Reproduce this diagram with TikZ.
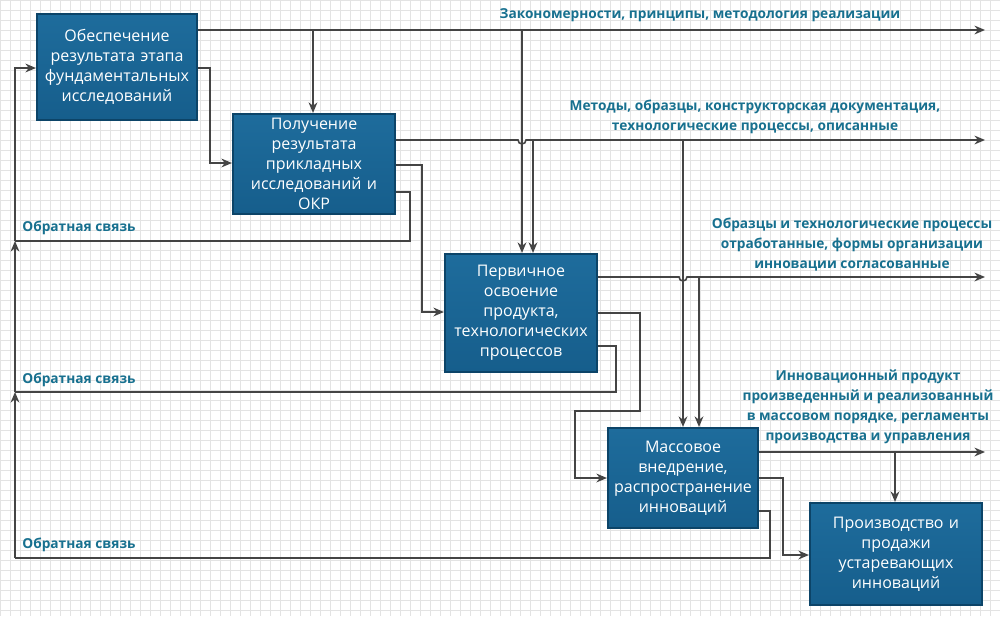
\documentclass[tikz,border=0pt]{standalone}
\usepackage{fontspec}
\setmainfont{Open Sans}
\usetikzlibrary{arrows.meta}
\definecolor{boxfill}{HTML}{165E8C}
\definecolor{boxtop}{HTML}{1E6C9C}
\definecolor{boxline}{HTML}{0C4468}
\definecolor{lab}{HTML}{17708F}
\definecolor{ln}{HTML}{444444}
\definecolor{gridc}{HTML}{E3E3E3}
\tikzset{
  x=0.02cm,y=-0.02cm,
  box/.style={draw=boxline,line width=1.2pt,top color=boxtop,bottom color=boxfill,
    text=white,align=center,inner sep=0pt,font=\fontsize{9.1}{11.4}\selectfont},
  conn/.style={draw=ln,line width=0.9pt},
  arr/.style={conn,-{Stealth[length=6pt,width=5pt]}},
  lbl/.style={text=lab,font=\bfseries\fontsize{7.8}{11.4}\selectfont,align=center,inner sep=0pt}
}
\begin{document}
\begin{tikzpicture}
\useasboundingbox (0,0) rectangle (1000,616);
\fill[white] (0,0) rectangle (1000,616);
\foreach \i in {0,10,...,1000} \draw[gridc,line width=0.4pt] (\i,0) -- (\i,616);
\foreach \j in {0,10,...,610} \draw[gridc,line width=0.4pt] (0,\j) -- (1000,\j);
% boxes
\node[box,minimum width=160*0.02cm,minimum height=106*0.02cm,text width=155*0.02cm] (b1) at (117,67) {Обеспечение\\результата этапа\\фундаментальных\\исследований};
\node[box,minimum width=162*0.02cm,minimum height=100*0.02cm,text width=155*0.02cm] (b2) at (314,164) {Получение\\результата\\прикладных\\исследований и\\ОКР};
\node[box,minimum width=152*0.02cm,minimum height=118*0.02cm,text width=148*0.02cm] (b3) at (521,313) {Первичное\\освоение\\продукта,\\технологических\\процессов};
\node[box,minimum width=150*0.02cm,minimum height=100*0.02cm,text width=148*0.02cm] (b4) at (683,478) {Массовое\\внедрение,\\распространение\\инноваций};
\node[box,minimum width=172*0.02cm,minimum height=102*0.02cm,text width=160*0.02cm] (b5) at (896,554) {Производство и\\продажи\\устаревающих\\инноваций};
% end coordinates
\coordinate (e1) at (985,30);
\coordinate (e2) at (985,140);
\coordinate (e3) at (985,277);
\coordinate (e4) at (985,452);
% outputs
\draw[arr] (b1.east|-0,30) -- (e1);
\draw[arr] (b2.east|-0,140) -- (518,140) arc[start angle=180,end angle=0,radius=4] -- (e2);
\draw[arr] (b3.east|-0,277) -- (679,277) arc[start angle=180,end angle=0,radius=4] -- (e3);
\draw[arr] (b4.east|-0,452) -- (e4);
% downward arrows
\draw[arr] (313,30) -- (b2.north-|313,0);
\draw[arr] (522,30) -- (b3.north-|522,0);
\draw[arr] (533,140) -- (b3.north-|533,0);
\draw[arr] (683,140) -- (b4.north-|683,0);
\draw[arr] (699,277) -- (b4.north-|699,0);
\draw[arr] (895,452) -- (b5.north-|895,0);
% forward links
\draw[arr] (b1.east|-0,68) -- (210,68) -- (210,163) -- (b2.west|-0,163);
\draw[arr] (b2.east|-0,165) -- (422,165) -- (422,312) -- (b3.west|-0,312);
\draw[arr] (b3.east|-0,313) -- (640,313) -- (640,411) -- (575,411) -- (575,478) -- (b4.west|-0,478);
\draw[arr] (b4.east|-0,478) -- (783,478) -- (783,555) -- (b5.west|-0,555);
% feedback
\draw[conn] (b2.east|-0,192) -- (410,192) -- (410,241) -- (15,241);
\draw[conn] (b3.east|-0,346) -- (616,346) -- (616,392) -- (15,392);
\draw[conn] (b4.east|-0,511) -- (770,511) -- (770,558) -- (15,558);
\draw[arr] (15,558) -- (15,392);
\draw[arr] (15,392) -- (15,241);
\draw[arr] (15,241) -- (15,68) -- (b1.west|-0,68);
% labels
\node[lbl] (l1) at (700,15) {Закономерности, принципы, методология реализации};
\node[lbl] (l2) at (755,117) {Методы, образцы, конструкторская документация,\\технологические процессы, описанные};
\node[lbl] (l3) at (852,245) {Образцы и технологические процессы\\отработанные, формы организации\\инновации согласованные};
\node[lbl] (l4) at (868,407) {Инновационный продукт\\произведенный и реализованный\\в массовом порядке, регламенты\\производства и управления};
\node[lbl,anchor=west] (f1) at (22,228) {Обратная связь};
\node[lbl,anchor=west] (f2) at (22,380) {Обратная связь};
\node[lbl,anchor=west] (f3) at (22,545) {Обратная связь};
\end{tikzpicture}
\end{document}
